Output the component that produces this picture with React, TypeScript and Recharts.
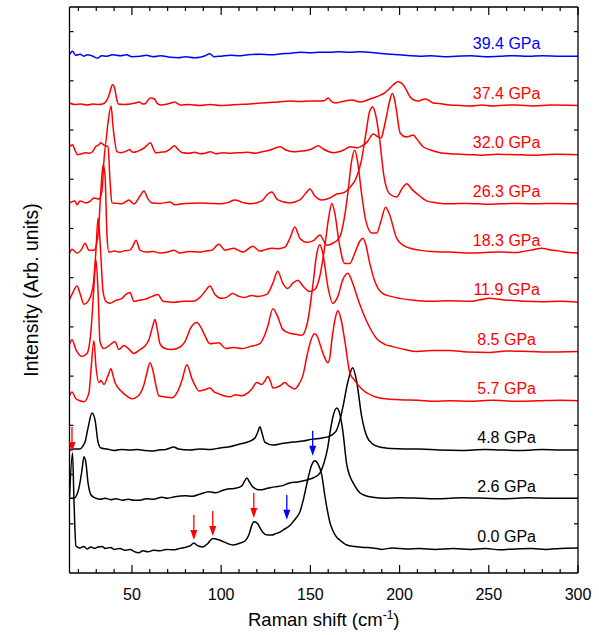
import React from "react"
import { LineChart, Line, XAxis, YAxis, ReferenceDot } from "recharts"

const FONT = '"Liberation Sans", Arial, Helvetica, sans-serif'

// Raman shift (cm-1) vs intensity above each trace's own baseline
const p00: [number, number][] = [
  [15, 1.02], [16.7, 1.94], [17.5, 0.98], [18.6, 0.05], [20.9, 0.01], [23, 0.04], [25, -0.01], [27, 0.03], [29, 0],
  [31, 0.03], [33.2, 0.04], [35, 0], [38, 0.02], [40, -0.02], [43.3, 0], [46, -0.04], [49, -0.02], [51, -0.06],
  [53.9, -0.09], [56, -0.05], [59, -0.07], [62, -0.04], [65.7, -0.05], [69, -0.02], [73, -0.03], [77, 0], [80.8, 0.03],
  [83, 0.06], [84.7, 0.11], [86.5, 0.06], [89.7, 0.03], [92.5, 0.1], [95.3, 0.2], [98, 0.18], [100.4, 0.15],
  [103.5, 0.1], [106.5, 0.07], [110, 0.1], [113.3, 0.15], [115.5, 0.27], [117, 0.45], [118.3, 0.54], [120.5, 0.5],
  [122, 0.4], [123.3, 0.33], [126.1, 0.27], [128.4, 0.27], [130.5, 0.3], [132.9, 0.33], [135, 0.38], [137.3, 0.43],
  [139, 0.48], [140.7, 0.56], [142.5, 0.64], [144.1, 0.74], [146, 0.98], [148, 1.31], [150.8, 1.7], [152.5, 1.78],
  [154.2, 1.72], [156.4, 1.49], [158, 1.1], [159.7, 0.74], [161, 0.52], [162.5, 0.37], [164.5, 0.24], [166.5, 0.17],
  [170.4, 0.07], [175, 0.04], [180, 0.02], [184.9, 0.01], [190, -0.02], [196, 0.01], [204, -0.01], [211.2, 0],
  [220, -0.02], [230, 0], [240, -0.02], [248, 0], [256, -0.03], [265, -0.01], [274, 0], [282, -0.02], [290, 0], [300, 0.01],
]

const p26: [number, number][] = [
  [15, 0.02], [17.5, 0.02], [19, 0.08], [20.3, 0.23], [22, 0.59], [23.1, 0.86], [24.2, 0.74], [25.4, 0.33], [27, 0.09],
  [29, 0.03], [32.1, 0], [35, 0.02], [38, -0.01], [41, 0.01], [44.4, -0.02], [48, 0], [51, -0.02], [54.5, -0.02],
  [58, 0.01], [62, 0], [66.8, 0.04], [70, 0.02], [74, 0.05], [79.7, 0.07], [84, 0.06], [88, 0.1], [93.1, 0.15],
  [97, 0.13], [101, 0.18], [104.9, 0.21], [108, 0.22], [111.6, 0.27], [113, 0.36], [114.4, 0.43], [116, 0.34],
  [117.7, 0.25], [121.7, 0.19], [126, 0.22], [130, 0.25], [134, 0.27], [138.4, 0.33], [143, 0.35], [148, 0.39],
  [152, 0.44], [155.3, 0.53], [157.5, 0.72], [159.7, 1.04], [161, 1.35], [162.5, 1.65], [164.8, 1.85], [166.5, 1.73],
  [168.1, 1.41], [170.4, 0.7], [172, 0.48], [173.7, 0.35], [177.7, 0.13], [181, 0.07], [184.9, 0.04], [192, 0.02],
  [200, 0.03], [211.2, 0.02], [222, 0.01], [235, 0.03], [248, 0.02], [260, 0.01], [272, 0.03], [285, 0.02], [300, 0.02],
]

const p48: [number, number][] = [
  [15, 0], [18, 0.02], [20.9, 0.02], [22.5, 0.08], [23.7, 0.16], [25.4, 0.45], [27.6, 0.75], [29.3, 0.61], [31, 0.16],
  [32.6, 0.04], [36, 0.02], [40, -0.01], [44, 0.01], [48.9, 0], [53, 0.01], [57, -0.01], [61.2, -0.02], [65, 0],
  [69, 0.01], [73.5, 0.06], [76, 0.02], [82.5, 0], [88, 0.02], [94, 0.01], [99.3, 0.04], [104, 0.06], [110.5, 0.12],
  [114, 0.15], [118.9, 0.24], [120.5, 0.36], [121.7, 0.47], [123, 0.33], [124.5, 0.16], [129, 0.1], [134, 0.13],
  [140.2, 0.16], [146, 0.18], [151.4, 0.22], [156, 0.24], [160.9, 0.28], [163, 0.33], [164.8, 0.41], [166.5, 0.6],
  [168.1, 0.85], [171, 1.38], [173.7, 1.67], [176, 1.38], [178.8, 0.67], [180.5, 0.4], [182.1, 0.24], [185, 0.12],
  [188.9, 0.06], [195, 0.03], [203, 0.02], [211.2, 0.02], [222, 0], [235, -0.01], [248, 0.01], [256, 0], [268, -0.01],
  [280, 0.01], [290, 0], [300, 0],
]

const p57: [number, number][] = [
  [15, 0.1], [16.4, 0.18], [18.6, 0.04], [21, 0], [23.1, -0.02], [25.9, 0.16], [27, 0.61], [28.7, 1.22], [29.8, 0.71],
  [31.5, 0.37], [32.6, 0.41], [34.3, 0.33], [36.6, 0.51], [38.2, 0.65], [39.5, 0.5], [40.5, 0.37], [44.4, 0.18],
  [47, 0.1], [50, 0.04], [52, 0.06], [54.5, 0.14], [56.5, 0.3], [58.4, 0.57], [60.1, 0.77], [61.8, 0.61], [63.5, 0.3],
  [65.1, 0.1], [68, 0.08], [72.4, 0.06], [75.5, 0.18], [78, 0.41], [80.8, 0.73], [83.6, 0.45], [85.5, 0.3], [87.5, 0.2],
  [90.5, 0.22], [93.7, 0.26], [96, 0.18], [98.7, 0.14], [101.5, 0.1], [104.9, 0.08], [108, 0.12], [111.6, 0.1],
  [115, 0.16], [117.2, 0.24], [120, 0.37], [122.8, 0.33], [124.5, 0.4], [126.1, 0.49], [127.6, 0.4], [129, 0.26],
  [132.9, 0.3], [135.7, 0.37], [138, 0.3], [141.3, 0.24], [143.5, 0.33], [145.8, 0.51], [148.5, 0.98], [150.8, 1.28],
  [152.5, 1.36], [154, 1.3], [155.3, 1.16], [158.1, 0.87], [159.8, 0.77], [161, 0.9], [162, 1.22], [164.3, 1.73],
  [165.4, 1.83], [167.1, 1.67], [169.3, 1.22], [172.1, 0.57], [174.9, 0.41], [178.8, 0.24], [185, 0.1], [192, 0.04],
  [200.1, 0.02], [210, 0.01], [220, -0.01], [228, 0], [240, -0.01], [252, 0.01], [265, -0.01], [278, 0], [290, 0.01], [300, 0],
]

const p85: [number, number][] = [
  [15, 0.14], [16.4, 0.24], [18.6, 0.04], [22, -0.1], [24.8, -0.04], [27, 0.41], [28.7, 1.32], [29.8, 1.87], [31, 1.22],
  [32.1, 0.2], [34.3, 0.06], [37.1, 0.12], [40.5, 0.2], [42.7, 0.04], [45.5, 0.12], [48, 0.06], [51.1, -0.04],
  [54.5, 0.04], [57, 0.1], [59.5, 0.24], [61.5, 0.5], [62.9, 0.65], [64.2, 0.45], [65.7, 0.16], [68.5, 0.06], [72, 0.04],
  [75.2, 0.06], [79.7, 0.2], [83.1, 0.49], [86.4, 0.59], [88.5, 0.5], [90.3, 0.37], [93.7, 0.16], [98.7, 0.18],
  [102.6, 0.06], [107, 0.08], [111.6, 0.06], [116.1, 0.1], [121.7, 0.16], [124, 0.3], [126.1, 0.51], [129, 0.87],
  [131.7, 0.71], [134.5, 0.45], [138.5, 0.37], [142, 0.35], [145.2, 0.33], [148.5, 0.61], [151.3, 1.32], [153.6, 1.99],
  [155.3, 2.17], [157, 1.99], [159.8, 1.32], [162.6, 0.98], [165.4, 1.12], [168.2, 1.46], [171, 1.59], [173.8, 1.38],
  [176.5, 1.08], [181.6, 0.61], [187.2, 0.26], [192, 0.14], [196.1, 0.1], [203, 0.04], [209.6, 0], [218, 0.02],
  [228, 0.02], [238, -0.01], [250.4, -0.02], [260, 0.01], [272.8, 0], [285, -0.01], [300, 0],
]

const p119: [number, number][] = [
  [15, 0.06], [16.4, 0.16], [19.2, 0.33], [20.9, 0.18], [23.1, -0.04], [25.4, 0.02], [28.2, 0.33], [29.8, 1.04],
  [31, 1.71], [32.1, 1.24], [33.8, 0.22], [35.4, 0.02], [37.7, -0.02], [41, 0.04], [44.4, 0.08], [46.6, 0.16],
  [48.9, 0.2], [51.1, 0.02], [54, 0.04], [57.3, 0.06], [61.2, 0.12], [64.6, 0.16], [67.4, 0.02], [70, 0.01], [74.1, 0],
  [79, 0.02], [84.2, 0.02], [88.1, 0.1], [90.9, 0.22], [93.7, 0.33], [96.5, 0.16], [100.4, 0.08], [103, 0.1],
  [106.5, 0.18], [110, 0.12], [113.3, 0.1], [117, 0.14], [120.6, 0.12], [125.6, 0.16], [129, 0.39], [131.7, 0.63],
  [134.5, 0.39], [137.3, 0.28], [140.2, 0.39], [143, 0.45], [145.8, 0.33], [149.7, 0.22], [152.5, 0.26], [155.3, 0.53],
  [158.1, 1.14], [160.4, 1.75], [162, 2.01], [163.7, 1.81], [166, 1.24], [169.3, 0.79], [172.1, 0.79], [174.9, 1.0],
  [177.7, 1.24], [179.4, 1.3], [181, 1.18], [183.3, 0.79], [186.1, 0.43], [190.5, 0.18], [195, 0.12], [200, 0.08],
  [208, 0.04], [216.9, 0.02], [228, 0.03], [239.3, 0.02], [245, 0.05], [250.5, 0.08], [256, 0.06], [261.7, 0.04],
  [270, 0.02], [280, 0.01], [290, 0.02], [300, 0],
]

const p183: [number, number][] = [
  [15, 0], [16.4, 0.08], [19.2, 0], [21.5, 0.06], [23.7, 0.2], [25.9, 0.06], [28.7, 0.06], [31, 0.37], [32.6, 1.28],
  [33.8, 1.79], [34.9, 1.59], [36, 0.37], [37.1, 0.02], [40, 0.04], [43.3, 0.02], [46, 0.05], [48.9, 0.06], [50.5, 0.14],
  [52.3, 0.26], [54.5, 0.06], [58, 0.02], [62, 0.03], [65.7, 0], [70, 0.02], [73.5, 0.06], [76.9, 0], [82, 0.03],
  [88.1, 0.02], [91, 0.04], [94.8, 0.06], [98.7, 0.18], [102.1, 0.06], [104.5, 0.08], [107.1, 0.1], [109.5, 0.06],
  [112.2, 0.02], [117.8, 0.14], [121.7, 0.04], [125, 0.07], [128.4, 0.1], [132, 0.09], [135.7, 0.12], [138.5, 0.3],
  [141.3, 0.53], [144.1, 0.3], [148, 0.22], [152, 0.26], [155.3, 0.37], [159.2, 0.16], [162.6, 0.2], [166.5, 0.33],
  [169.3, 0.77], [171, 1.22], [173.2, 1.89], [174.9, 2.09], [176.5, 1.85], [178.8, 1.18], [181, 0.67], [184.4, 0.41],
  [187.2, 0.41], [189.4, 0.63], [192.2, 0.93], [194.5, 0.77], [198.4, 0.3], [204, 0.12], [211.3, 0.06], [218, 0.03],
  [228.1, 0.02], [240, 0], [256.1, 0.02], [265, 0.01], [270.1, 0.04], [275, 0.07], [279.6, 0.1], [284, 0.07],
  [289.7, 0.04], [295, 0.01], [300, 0],
]

const p263: [number, number][] = [
  [15, 0.02], [18.1, 0.06], [19.2, -0.02], [20.9, 0.06], [24.2, 0.02], [26.5, 0.05], [28.7, 0.12], [31.5, 0.1],
  [33.2, 0.26], [34.3, 0.87], [35.2, 1.18], [36.6, 1.16], [37.7, 0.47], [38.8, 0.02], [41.5, 0.01], [44.4, 0],
  [48.3, 0.08], [51.1, 0], [54.5, 0.16], [56.7, 0.26], [59, 0.1], [61.2, 0.02], [66, 0.01], [71.3, 0.04], [74.1, -0.02],
  [80, 0.01], [88.1, 0.02], [94, 0.01], [99.3, 0], [104, 0.03], [107.7, 0.08], [112, 0.03], [116.1, 0], [122.8, 0.06],
  [126.1, 0.2], [128.4, 0.24], [131.7, 0.08], [138.5, 0.02], [144.1, 0.08], [147.5, 0.22], [149.7, 0.3], [152.5, 0.16],
  [156.4, 0.08], [160.9, 0.12], [164.8, 0.2], [168.2, 0.22], [172.1, 0.33], [175.5, 0.51], [178.3, 0.83], [181.1, 1.42],
  [183.3, 1.89], [185, 1.97], [186.7, 1.79], [188.9, 1.28], [191.2, 0.57], [194.5, 0.2], [198.4, 0.14], [201.2, 0.3],
  [204, 0.41], [206.8, 0.3], [211.3, 0.16], [215.2, 0.06], [221, 0.02], [228.1, 0], [238, 0.01], [250, -0.01],
  [262, 0.01], [275, 0], [288, 0.01], [300, 0],
]

const p320: [number, number][] = [
  [15, 0.16], [16.7, 0.2], [18, 0.1], [19.5, 0], [22, 0.02], [24, 0.04], [26, 0.03], [27.9, 0.06], [29.6, 0.16],
  [31.5, 0.2], [32.5, 0.24], [34.9, 0.18], [36.6, 0.65], [38.3, 0.99], [39.4, 0.57], [41.6, 0.06], [43.6, 0.04],
  [46, 0.06], [48.6, 0.1], [50.5, 0.05], [52.5, 0.06], [55, 0.1], [57, 0.14], [60.4, 0.24], [62, 0.12], [63.2, 0.04],
  [66, 0.05], [68.8, 0.06], [71, 0.1], [73.8, 0.18], [76, 0.1], [78.3, 0.04], [82, 0.03], [85, 0.05], [88.3, 0.02],
  [91, 0.03], [93.9, 0.06], [97, 0.02], [101, 0.04], [105, 0.03], [110.7, 0.04], [115, 0.05], [119, 0.03], [123.1, 0.06],
  [127, 0.09], [130, 0.13], [133.1, 0.16], [136, 0.1], [140.4, 0.06], [144, 0.07], [147.1, 0.08], [151, 0.12],
  [154.4, 0.18], [157, 0.12], [162.8, 0.04], [166, 0.06], [169, 0.1], [172.3, 0.16], [176.3, 0.14], [179, 0.18],
  [181.9, 0.26], [185.2, 0.42], [188, 0.36], [189.7, 0.34], [191, 0.5], [192.5, 0.75], [194.5, 1.1], [195.9, 1.24],
  [197, 1.15], [198.2, 0.91], [200.3, 0.44], [203.7, 0.36], [206, 0.38], [207.6, 0.4], [210, 0.3], [213.2, 0.16],
  [217, 0.1], [222.7, 0.04], [228, 0.02], [234, 0.01], [239.5, 0], [246, -0.01], [255, 0.01], [265, 0], [275, -0.01],
  [288, 0.01], [300, 0],
]

const p374: [number, number][] = [
  [15, 0.05], [18, 0.02], [21.2, 0.03], [25, 0.01], [28, 0.03], [31, 0.02], [33.5, 0.03], [35.7, 0.09], [37.5, 0.25],
  [39.1, 0.42], [40.3, 0.35], [41.5, 0.12], [42.4, 0.03], [45, 0.02], [49.2, 0.03], [52, 0.05], [54.2, 0.07], [56, 0.03],
  [57.6, 0.04], [59, 0.11], [60.4, 0.15], [62.6, 0.13], [64, 0.05], [66, 0.01], [69.9, 0.03], [72, 0.05], [73.8, 0.07],
  [77.1, 0.01], [82, 0.02], [88, 0], [94, 0.02], [99.5, 0], [105, 0.01], [110, 0.02], [116, 0.03], [121.9, 0.05],
  [127, 0.06], [132, 0.07], [138.7, 0.09], [144, 0.08], [150, 0.09], [155.5, 0.09], [158, 0.1], [160, 0.15],
  [161.5, 0.09], [163.9, 0.05], [168, 0.08], [173.5, 0.11], [177.9, 0.07], [182, 0.11], [185.2, 0.15], [188, 0.19],
  [191.9, 0.26], [194, 0.33], [195.9, 0.4], [199.2, 0.48], [202, 0.42], [204, 0.3], [205.9, 0.17], [208, 0.11],
  [210.4, 0.09], [214.3, 0.13], [216.5, 0.1], [218.8, 0.05], [222, 0.04], [228, 0.01], [233.9, 0], [240, -0.01],
  [246, 0.01], [252, -0.01], [256.3, 0], [265, 0.01], [275, -0.01], [285, 0.01], [300, 0],
]

const p394: [number, number][] = [
  [15, 0.04], [16.7, 0.1], [18.4, 0.02], [21, 0.04], [23, 0], [25, 0.03], [27.5, 0.01], [30.7, -0.04], [33, 0.01],
  [36, 0], [39, 0.03], [43.6, 0.01], [47, 0.03], [50, -0.01], [54.8, 0], [58, 0.02], [62, -0.01], [66, 0.01],
  [71.5, -0.02], [76, -0.03], [80, -0.01], [85, -0.03], [88.3, -0.02], [91, 0.01], [93.7, 0.05], [96, -0.01], [100, 0],
  [105.1, 0.02], [110, 0.01], [115, 0.03], [121.9, 0.04], [128, 0.03], [134, 0.05], [139, 0.06], [144.3, 0.08],
  [150, 0.07], [155, 0.08], [161.1, 0.08], [166, 0.09], [172, 0.08], [177.9, 0.09], [183, 0.08], [188, 0.06],
  [194.7, 0.04], [200, 0.03], [206, 0.01], [211.5, 0], [218, 0.01], [225, -0.01], [232, 0], [240, 0.01], [248, -0.01],
  [256.3, 0], [264, 0.01], [272, 0], [280, 0.01], [290, 0], [300, 0],
]

const pressures = ["0.0 GPa", "2.6 GPa", "4.8 GPa", "5.7 GPa", "8.5 GPa", "11.9 GPa", "18.3 GPa", "26.3 GPa", "32.0 GPa", "37.4 GPa", "39.4 GPa"]
const traces = [p00, p26, p48, p57, p85, p119, p183, p263, p320, p374, p394]
const colors = ["#000000", "#000000", "#000000", "#ff0000", "#ff0000", "#ff0000", "#ff0000", "#ff0000", "#ff0000", "#ff0000", "#0000ff"]
const offsets = [0.5, 1.5, 2.5, 3.5, 4.5, 5.5, 6.5, 7.5, 8.5, 9.5, 10.5]

// arrow markers: shift, height of arrow tip, colour
const arrows: { x: number; y: number; c: string }[] = [
  { x: 16.4, y: 2.46, c: "#ff0000" },
  { x: 84.7, y: 0.67, c: "#ff0000" },
  { x: 95.3, y: 0.75, c: "#ff0000" },
  { x: 118.3, y: 1.12, c: "#ff0000" },
  { x: 136.8, y: 1.08, c: "#0000ff" },
  { x: 151.3, y: 2.38, c: "#0000ff" },
]

const xTicks = [20, 30, 40, 50, 60, 70, 80, 90, 100, 110, 120, 130, 140, 150, 160, 170, 180, 190, 200, 210, 220, 230, 240, 250, 260, 270, 280, 290, 300]
const yTicks = [1, 2, 3, 4, 5, 6, 7, 8, 9, 10, 11]

const series = traces.map((pts, i) => ({
  name: pressures[i],
  color: colors[i],
  offset: offsets[i],
  data: pts.map(([x, v]) => ({ x, y: v + offsets[i] })),
}))

const BottomTick = (p: any) => {
  const major = p.payload.value % 50 === 0
  return (
    <g>
      <line x1={p.x} x2={p.x} y1={p.y} y2={p.y - (major ? 8 : 4)} stroke="#000" strokeWidth={1.2} />
      {major && (
        <text x={p.x} y={p.y + 27} textAnchor="middle" fontSize={16} fontFamily={FONT} fill="#000">
          {p.payload.value}
        </text>
      )}
    </g>
  )
}

const TopTick = (p: any) => {
  const major = p.payload.value % 50 === 0
  return <line x1={p.x} x2={p.x} y1={p.y} y2={p.y + (major ? 8 : 4)} stroke="#000" strokeWidth={1.2} />
}

const LeftTick = (p: any) => <line x1={p.x} x2={p.x + 4} y1={p.y} y2={p.y} stroke="#000" strokeWidth={1.2} />
const RightTick = (p: any) => <line x1={p.x} x2={p.x - 4} y1={p.y} y2={p.y} stroke="#000" strokeWidth={1.2} />

const XTitle = (p: any) => {
  const vb = p.viewBox
  return (
    <text x={vb.x + vb.width / 2} y={vb.y + 53} textAnchor="middle" fontSize={18.5} fontFamily={FONT} fill="#000">
      Raman shift (cm
      <tspan dy={-7} fontSize={12}>-1</tspan>
      <tspan dy={7}>)</tspan>
    </text>
  )
}

const YTitle = (p: any) => {
  const vb = p.viewBox
  const x = vb.x + vb.width - 32
  const y = vb.y + vb.height / 2
  return (
    <text x={x} y={y} transform={`rotate(-90 ${x} ${y})`} textAnchor="middle" fontSize={19.5} fontFamily={FONT} fill="#000">
      Intensity (Arb. units)
    </text>
  )
}

const Arrow = (p: any) => {
  const { cx, cy, fill } = p
  return (
    <g>
      <line x1={cx} x2={cx} y1={cy - 25} y2={cy - 8} stroke={fill} strokeWidth={1.3} />
      <polygon points={`${cx - 3.5},${cy - 10} ${cx + 3.5},${cy - 10} ${cx},${cy}`} fill={fill} />
    </g>
  )
}

const makeLabel = (text: string, color: string) => (p: any) => (
  <text x={p.cx} y={p.cy} textAnchor="middle" fontSize={16} fontFamily={FONT} fill={color}>
    {text}
  </text>
)

const axisLine = { stroke: "#000", strokeWidth: 1.3 }

export default function App() {
  return (
    <div style={{ position: "absolute", left: 0, top: 0, background: "#fff" }}>
      <LineChart width={599} height={635} margin={{ top: 6, right: 20, bottom: 0, left: 68.5 }}>
        <XAxis
          xAxisId="b"
          type="number"
          dataKey="x"
          domain={[15, 300]}
          allowDataOverflow
          ticks={xTicks}
          interval={0}
          height={62}
          tickSize={0}
          tickMargin={0}
          tickLine={false}
          axisLine={axisLine}
          tick={<BottomTick />}
          label={<XTitle />}
        />
        <XAxis
          xAxisId="t"
          orientation="top"
          type="number"
          dataKey="x"
          domain={[15, 300]}
          allowDataOverflow
          ticks={xTicks}
          interval={0}
          height={1}
          tickSize={0}
          tickMargin={0}
          tickLine={false}
          axisLine={axisLine}
          tick={<TopTick />}
        />
        <YAxis
          yAxisId="l"
          type="number"
          domain={[0, 11.5]}
          allowDataOverflow
          ticks={yTicks}
          interval={0}
          width={1}
          tickSize={0}
          tickMargin={0}
          tickLine={false}
          axisLine={axisLine}
          tick={<LeftTick />}
          label={<YTitle />}
        />
        <YAxis
          yAxisId="r"
          orientation="right"
          type="number"
          domain={[0, 11.5]}
          allowDataOverflow
          ticks={yTicks}
          interval={0}
          width={1}
          tickSize={0}
          tickMargin={0}
          tickLine={false}
          axisLine={axisLine}
          tick={<RightTick />}
        />
        {series.map((s) => (
          <Line
            key={s.name}
            xAxisId="b"
            yAxisId="l"
            data={s.data}
            dataKey="y"
            type="monotone"
            stroke={s.color}
            strokeWidth={1.5}
            dot={false}
            isAnimationActive={false}
          />
        ))}
        {series.map((s) => (
          <ReferenceDot
            key={"lbl" + s.name}
            xAxisId="b"
            yAxisId="l"
            x={260}
            y={s.offset + 0.14}
            r={0}
            shape={makeLabel(s.name, s.color)}
          />
        ))}
        {arrows.map((a, i) => (
          <ReferenceDot key={"arr" + i} xAxisId="b" yAxisId="l" x={a.x} y={a.y} r={0} fill={a.c} shape={Arrow} />
        ))}
      </LineChart>
    </div>
  )
}
